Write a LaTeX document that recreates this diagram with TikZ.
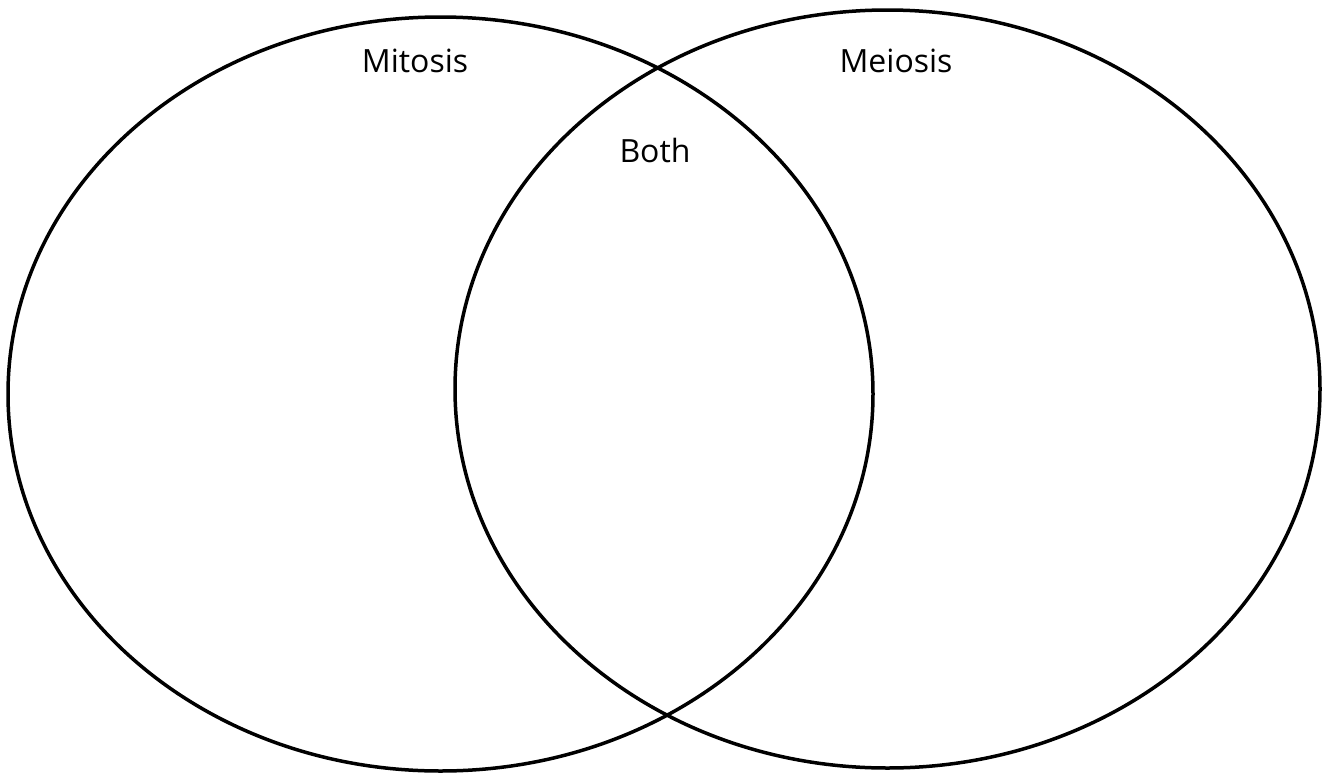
\documentclass[tikz,border=0pt]{standalone}
\usepackage{fontspec}
\setmainfont{Open Sans}
\tikzset{
  circ/.style={line width=3.5pt, black},
  setlabel/.style={anchor=base, inner sep=0pt, font=\fontsize{32}{38}\selectfont}
}
\begin{document}
\begin{tikzpicture}[x=1pt, y=-1pt]
            \useasboundingbox (0,0) rectangle (1326,772);
            \coordinate (L) at (440.5,394);
            \coordinate (R) at (887.5,389);

            % de twee verzamelingen
            \draw[circ] (L) ellipse [x radius=432.5, y radius=377];
            \draw[circ] (R) ellipse [x radius=432.5, y radius=379];

            \node[setlabel] (mitosis) at (415,72) {Mitosis};
            \node[setlabel] (meiosis) at (896,72) {Meiosis};
            \node[setlabel] (both) at (655,162) {Both};
        \end{tikzpicture}
\end{document}
